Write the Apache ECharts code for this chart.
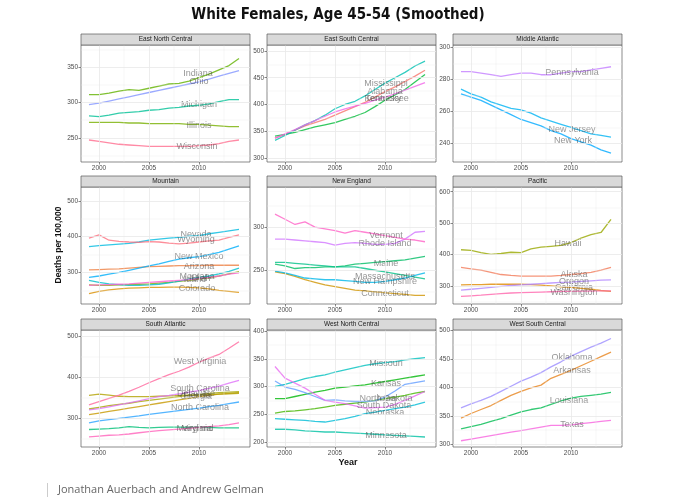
<!DOCTYPE html>
<html><head><meta charset="utf-8">
<script src="https://cdn.jsdelivr.net/npm/echarts@6/dist/echarts.min.js"></script>
<style>html,body{margin:0;padding:0;background:#fff}#c{width:676px;height:503px}</style>
</head><body><div id="c"></div>
<script>
// ---------- DATA ----------
const years = [1999,2000,2001,2002,2003,2004,2005,2006,2007,2008,2009,2010,2011,2012,2013,2014];

// East North Central
const illinois  = [272,272,272,272,271,271,270,270,270,270,269,269,268,267,266,266];
const indiana   = [311,311,313,316,318,317,320,323,326,327,330,335,340,346,352,362];
const michigan  = [281,280,282,285,286,287,289,290,292,293,295,296,298,301,304,304];
const ohio      = [297,299,302,305,308,311,314,317,320,323,326,329,333,337,341,345];
const wisconsin = [247,245,243,241,240,239,238,238,238,238,238,239,240,242,245,247];
// East South Central
const alabama     = [337,344,352,360,366,372,380,388,396,404,414,424,433,443,453,464];
const kentucky    = [341,344,348,353,358,362,366,372,378,385,396,408,418,428,442,456];
const mississippi = [333,342,352,362,370,380,392,400,406,416,428,440,450,460,472,481];
const tennessee   = [337,345,353,362,370,378,386,392,397,402,408,414,420,427,434,441];
// Middle Atlantic
const newJersey    = [274,271,269,266,264,262,261,259,256,254,252,250,248,246,245,244];
const newYork      = [271,269,267,264,261,258,255,253,251,248,246,243,241,239,236,234];
const pennsylvania = [285,285,284,283,282,283,284,284,283,283,284,285,285,286,287,288];
// Mountain
const arizona   = [307,308,309,310,312,314,316,317,318,319,319,319,320,320,320,320];
const colorado  = [241,247,251,254,256,257,258,258,259,259,258,257,254,250,247,244];
const idaho     = [265,264,264,265,266,267,268,270,272,275,278,281,285,290,296,302];
const montana   = [278,272,268,266,264,264,265,267,271,276,281,286,290,296,303,312];
const nevada    = [372,375,377,379,381,385,390,393,396,398,401,403,408,412,416,420];
const newMexico = [286,290,295,300,306,312,318,324,331,337,341,344,350,356,365,374];
const utah      = [264,265,266,267,268,270,272,274,276,278,280,283,286,290,295,299];
const wyoming   = [396,405,390,387,385,384,386,385,382,380,382,385,388,390,398,405];
// New England
const connecticut   = [248,246,243,239,236,233,231,229,227,226,225,224,223,222,221,221];
const maine         = [257,255,252,253,253,254,254,255,257,258,259,260,261,262,264,266];
const massachusetts = [259,259,258,257,256,255,254,254,254,252,250,248,246,244,242,240];
const newHampshire  = [249,247,244,241,240,239,239,238,237,236,236,237,239,241,244,247];
const rhodeIsland   = [286,286,285,284,283,282,279,281,282,281,280,280,281,286,294,295];
const vermont       = [315,309,303,306,300,298,296,293,296,294,292,290,288,286,285,283];
// Pacific
const alaska     = [359,354,350,343,336,333,331,331,331,331,333,336,339,343,350,359];
const california = [303,304,304,305,305,305,305,304,302,300,297,295,292,289,285,282];
const hawaii     = [415,413,406,400,403,407,406,418,423,426,429,438,452,463,470,512];
const oregon     = [286,289,292,295,298,301,303,305,307,309,311,312,314,316,318,319];
const washington = [266,268,270,273,275,277,278,279,280,281,282,282,283,283,284,284];
// South Atlantic
const delaware      = [308,312,316,320,324,328,332,336,340,344,348,352,355,358,360,362];
const florida       = [355,358,356,353,352,352,352,353,354,355,356,356,357,358,359,360];
const georgia       = [322,326,330,333,336,340,343,346,349,352,355,357,360,362,363,364];
const maryland      = [272,273,274,276,279,277,276,277,278,278,277,277,277,276,276,276];
const northCarolina = [288,293,296,299,302,305,309,312,315,318,321,324,328,331,335,339];
const southCarolina = [320,323,327,332,337,342,347,352,355,359,363,367,372,378,385,392];
const virginia      = [254,256,258,259,261,264,267,269,271,273,275,277,279,281,284,288];
const westVirginia  = [332,340,348,356,365,375,386,396,406,414,424,436,446,455,470,486];
// West North Central
const iowa         = [252,255,256,258,260,263,266,268,270,272,275,278,281,284,288,291];
const kansas       = [278,278,282,286,290,293,297,299,301,303,306,309,312,315,318,321];
const minnesota    = [223,223,222,220,219,218,218,217,216,215,214,213,212,211,210,209];
const missouri     = [300,304,309,314,318,321,326,330,334,338,341,343,345,348,350,352];
const nebraska     = [242,241,240,239,237,236,239,242,246,251,254,257,260,263,267,272];
const northDakota  = [310,299,295,289,282,275,276,274,273,273,274,281,292,304,307,310];
const southDakota  = [336,315,306,297,286,275,272,269,265,261,262,263,268,275,283,291];
// West South Central
const arkansas  = [346,354,361,368,377,386,393,399,404,416,423,430,438,446,454,462];
const louisiana = [327,331,335,340,345,351,357,361,364,370,376,381,384,386,388,391];
const oklahoma  = [364,371,377,384,393,402,411,418,426,436,445,455,463,471,478,486];
const texas     = [306,309,312,315,318,321,324,327,330,333,333,334,336,338,340,342];

// label anchors [year, value]
const labelAt = {
  'Indiana':[2009.9,341],'Ohio':[2010,329],'Michigan':[2010,297],'Illinois':[2010,267],'Wisconsin':[2009.8,238],
  'Mississippi':[2010.1,439],'Alabama':[2010,425],'Kentucky':[2009.8,412],'Tennessee':[2010.2,411],
  'Pennsylvania':[2010.1,284.5],'New Jersey':[2010.1,249],'New York':[2010.2,242],
  'Nevada':[2009.7,406],'Wyoming':[2009.7,391],'New Mexico':[2010,345],'Arizona':[2010,317],'Montana':[2009.8,288],'Utah':[2010.2,282],'Idaho':[2009.6,280],'Colorado':[2009.8,256],
  'Vermont':[2010.1,290],'Rhode Island':[2010,281],'Maine':[2010.1,258],'Massachusetts':[2010,243],'New Hampshire':[2010,237],'Connecticut':[2010,223],
  'Hawaii':[2009.7,436],'Alaska':[2010.3,336],'Oregon':[2010.3,313],'California':[2010.3,296],'Washington':[2010.3,279],
  'West Virginia':[2010.1,437],'South Carolina':[2010.1,373],'Delaware':[2009.7,359],'Florida':[2009.8,356],'Georgia':[2009.7,352],'North Carolina':[2010.1,326],'Virginia':[2009.8,275],'Maryland':[2009.6,274],
  'Missouri':[2010.1,342],'Kansas':[2010.1,306],'North Dakota':[2010.1,278],'Iowa':[2010.2,279],'South Dakota':[2009.9,266],'Nebraska':[2010,254],'Minnesota':[2010.1,212],
  'Oklahoma':[2010.1,452],'Arkansas':[2010.1,430],'Louisiana':[2009.8,377],'Texas':[2010.1,335]
};

const panelTitles = ['East North Central','East South Central','Middle Atlantic','Mountain','New England','Pacific','South Atlantic','West North Central','West South Central'];
const panelStates = [
  [['Illinois',illinois],['Indiana',indiana],['Michigan',michigan],['Ohio',ohio],['Wisconsin',wisconsin]],
  [['Alabama',alabama],['Kentucky',kentucky],['Mississippi',mississippi],['Tennessee',tennessee]],
  [['New Jersey',newJersey],['New York',newYork],['Pennsylvania',pennsylvania]],
  [['Arizona',arizona],['Colorado',colorado],['Idaho',idaho],['Montana',montana],['Nevada',nevada],['New Mexico',newMexico],['Utah',utah],['Wyoming',wyoming]],
  [['Connecticut',connecticut],['Maine',maine],['Massachusetts',massachusetts],['New Hampshire',newHampshire],['Rhode Island',rhodeIsland],['Vermont',vermont]],
  [['Alaska',alaska],['California',california],['Hawaii',hawaii],['Oregon',oregon],['Washington',washington]],
  [['Delaware',delaware],['Florida',florida],['Georgia',georgia],['Maryland',maryland],['North Carolina',northCarolina],['South Carolina',southCarolina],['Virginia',virginia],['West Virginia',westVirginia]],
  [['Iowa',iowa],['Kansas',kansas],['Minnesota',minnesota],['Missouri',missouri],['Nebraska',nebraska],['North Dakota',northDakota],['South Dakota',southDakota]],
  [['Arkansas',arkansas],['Louisiana',louisiana],['Oklahoma',oklahoma],['Texas',texas]]
];
const yMin = [216,292.5,228.4,211.8,210.9,242,229.3,191,295];
const yMax = [381,511.2,301.6,538.6,346.4,615,514.6,401.8,501];
const yTicks = [[250,300,350],[300,350,400,450,500],[240,260,280,300],[300,400,500],[250,300],[300,400,500,600],[300,400,500],[200,250,300,350,400],[300,350,400,450,500]];
const yMinor = [[225,275,325,375],[325,375,425,475],[230,250,270,290],[250,350,450],[225,275,325],[250,350,450,550],[250,350,450],[225,275,325,375],[325,375,425,475]];
const xTicks = [2000,2005,2010];
const xMinor = [2002.5,2007.5,2012.5];

const allStates = ['Alabama','Alaska','Arizona','Arkansas','California','Colorado','Connecticut','Delaware','District of Columbia','Florida','Georgia','Hawaii','Idaho','Illinois','Indiana','Iowa','Kansas','Kentucky','Louisiana','Maine','Maryland','Massachusetts','Michigan','Minnesota','Mississippi','Missouri','Montana','Nebraska','Nevada','New Hampshire','New Jersey','New Mexico','New York','North Carolina','North Dakota','Ohio','Oklahoma','Oregon','Pennsylvania','Rhode Island','South Carolina','South Dakota','Tennessee','Texas','Utah','Vermont','Virginia','Washington','West Virginia','Wisconsin','Wyoming'];

// ---------- STYLE HELPERS ----------
function hcl2hex(h, c, l) {
  const hr = h * Math.PI / 180, U = c * Math.cos(hr), V = c * Math.sin(hr);
  const Xn = 95.047, Yn = 100, Zn = 108.883;
  const un = 4 * Xn / (Xn + 15 * Yn + 3 * Zn), vn = 9 * Yn / (Xn + 15 * Yn + 3 * Zn);
  const Y = l > 8 ? Yn * Math.pow((l + 16) / 116, 3) : Yn * l / 903.3;
  const u = U / (13 * l) + un, v = V / (13 * l) + vn;
  const X = 9 * Y * u / (4 * v);
  const Z = -X / 3 - 5 * Y + 3 * Y / v;
  const x = X / 100, y = Y / 100, z = Z / 100;
  const lin = [3.240479 * x - 1.537150 * y - 0.498535 * z,
               -0.969256 * x + 1.875992 * y + 0.041556 * z,
               0.055648 * x - 0.204043 * y + 1.057311 * z];
  return '#' + lin.map(t => {
    let g = t <= 0.0031308 ? 12.92 * t : 1.055 * Math.pow(t, 1 / 2.4) - 0.055;
    g = Math.max(0, Math.min(1, g));
    return Math.round(g * 255).toString(16).padStart(2, '0');
  }).join('');
}
function stateColor(name) {
  const i = allStates.indexOf(name);
  return hcl2hex(15 + 360 * i / allStates.length, 100, 65);
}

const FONT = 'Liberation Sans, Arial, sans-serif';
const colLeft = [81, 267, 453], plotW = 169, rowTop = [45, 187, 330], plotH = 117, stripH = 11;
const xMin = 1998.2, xMax = 2015.1;

const grids = [], xAxes = [], yAxes = [], series = [], graphics = [];
panelTitles.forEach((title, i) => {
  const r = Math.floor(i / 3), c = i % 3;
  grids.push({ left: colLeft[c], top: rowTop[r], width: plotW, height: plotH, show: true,
    backgroundColor: '#fff', borderColor: '#5a5a5a', borderWidth: 0.7, outerBoundsMode: 'none', containLabel: false });
  const axisCommon = {
    gridIndex: i, splitLine: { show: false }, axisLine: { show: false },
  };
  xAxes.push(Object.assign({}, axisCommon, { type: 'value', min: xMin, max: xMax,
    axisTick: { show: true, inside: false, length: 2.5, customValues: xTicks, lineStyle: { color: '#555', width: 0.7 } },
    axisLabel: { customValues: xTicks, formatter: v => String(v), fontSize: 6.5, color: '#4d4d4d', margin: 3, fontFamily: FONT } }));
  yAxes.push(Object.assign({}, axisCommon, { type: 'value', min: yMin[i], max: yMax[i],
    axisTick: { show: true, inside: false, length: 2.5, customValues: yTicks[i], lineStyle: { color: '#555', width: 0.7 } },
    axisLabel: { customValues: yTicks[i], formatter: v => String(v), fontSize: 6.5, color: '#4d4d4d', margin: 3, fontFamily: FONT } }));

  const ml = [];
  xTicks.forEach(v => ml.push({ xAxis: v, lineStyle: { width: 0.8 } }));
  xMinor.forEach(v => ml.push({ xAxis: v, lineStyle: { width: 0.4 } }));
  yTicks[i].forEach(v => ml.push({ yAxis: v, lineStyle: { width: 0.8 } }));
  yMinor[i].forEach(v => ml.push({ yAxis: v, lineStyle: { width: 0.4 } }));
  series.push({ type: 'line', xAxisIndex: i, yAxisIndex: i, data: [], z: 1, silent: true, animation: false,
    markLine: { silent: true, symbol: ['none', 'none'], label: { show: false }, animation: false,
      lineStyle: { color: '#e8e8e8', type: 'solid' }, data: ml } });

  panelStates[i].forEach(([name, vals]) => {
    series.push({ type: 'line', name, xAxisIndex: i, yAxisIndex: i, z: 2, silent: true, animation: false,
      showSymbol: false, symbol: 'none',
      lineStyle: { color: stateColor(name), width: 1.3, opacity: 0.8 },
      data: years.map((yr, k) => [yr, vals[k]]) });
  });
  series.push({ type: 'scatter', xAxisIndex: i, yAxisIndex: i, z: 3, silent: true, animation: false,
    symbolSize: 1, itemStyle: { color: 'rgba(0,0,0,0)' },
    label: { show: true, position: 'inside', formatter: '{b}', color: 'rgba(70,70,70,0.72)', fontSize: 9, fontFamily: FONT,
      textBorderWidth: 0 },
    labelLayout: { hideOverlap: false },
    data: panelStates[i].map(([name]) => ({ name, value: labelAt[name] })) });

  graphics.push({ type: 'rect', shape: { x: colLeft[c], y: rowTop[r] - stripH, width: plotW, height: stripH },
    style: { fill: '#d9d9d9', stroke: '#5a5a5a', lineWidth: 0.7 }, z: 10 });
  graphics.push({ type: 'text', x: colLeft[c] + plotW / 2, y: rowTop[r] - stripH / 2, z: 11,
    style: { text: title, fill: '#1a1a1a', font: '6.5px ' + FONT, textAlign: 'center', textVerticalAlign: 'middle', align: 'center', verticalAlign: 'middle' } });
});

graphics.push({ type: 'text', x: 338, y: 15, style: { text: 'White Females, Age 45-54 (Smoothed)', fill: '#111',
  font: 'bold 15px "Liberation Sans Narrow", "DejaVu Sans Condensed", sans-serif', textAlign: 'center', textVerticalAlign: 'middle', align: 'center', verticalAlign: 'middle' } });
graphics.push({ type: 'text', x: 348, y: 463, style: { text: 'Year', fill: '#111',
  font: 'bold 9px ' + FONT, textAlign: 'center', textVerticalAlign: 'middle', align: 'center', verticalAlign: 'middle' } });
graphics.push({ type: 'text', x: 59, y: 245, rotation: Math.PI / 2, style: { text: 'Deaths per 100,000', fill: '#111',
  font: 'bold 8.5px ' + FONT, textAlign: 'center', textVerticalAlign: 'middle', align: 'center', verticalAlign: 'middle' } });
graphics.push({ type: 'rect', shape: { x: 47, y: 483, width: 1, height: 14 }, style: { fill: '#cccccc' } });
graphics.push({ type: 'text', x: 58, y: 490, style: { text: 'Jonathan Auerbach and Andrew Gelman', fill: '#666',
  font: '11px "Open Sans", sans-serif', textAlign: 'left', textVerticalAlign: 'middle', align: 'left', verticalAlign: 'middle' } });

const chart = echarts.init(document.getElementById('c'), null, { renderer: 'canvas' });
chart.setOption({ animation: false, backgroundColor: '#fff', grid: grids, xAxis: xAxes, yAxis: yAxes, series, graphic: graphics });
</script></body></html>
